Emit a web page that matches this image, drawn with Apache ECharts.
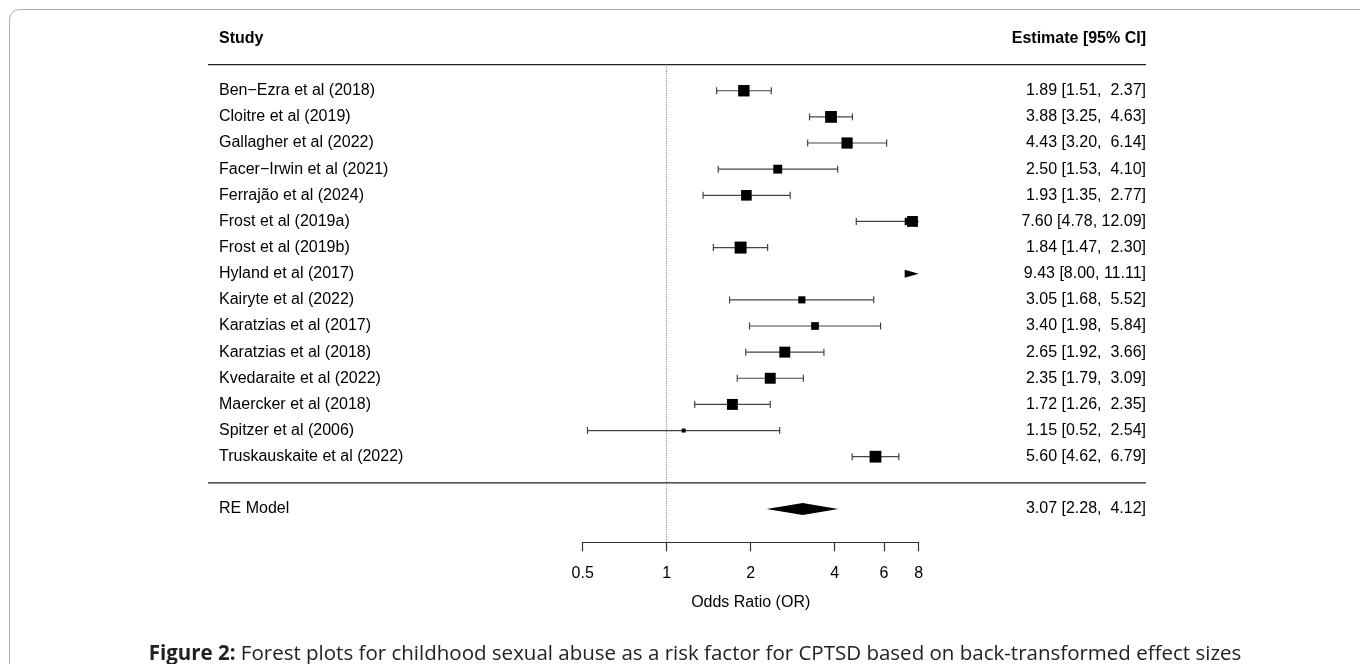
<!DOCTYPE html>
<html><head><meta charset="utf-8">
<script src="https://cdn.jsdelivr.net/npm/echarts@6/dist/echarts.min.js"></script>
<style>html,body{margin:0;padding:0;background:#fff;}#c{width:1360px;height:664px;}</style>
</head><body><div id="c"></div>
<script>
// ---------- data ----------
const studies = [
  'Ben\u2212Ezra et al (2018)', 'Cloitre et al (2019)', 'Gallagher et al (2022)',
  'Facer\u2212Irwin et al (2021)', 'Ferrajão et al (2024)', 'Frost et al (2019a)',
  'Frost et al (2019b)', 'Hyland et al (2017)', 'Kairyte et al (2022)',
  'Karatzias et al (2017)', 'Karatzias et al (2018)', 'Kvedaraite et al (2022)',
  'Maercker et al (2018)', 'Spitzer et al (2006)', 'Truskauskaite et al (2022)'
];
const estimates = [1.89, 3.88, 4.43, 2.50, 1.93, 7.60, 1.84, 9.43, 3.05, 3.40, 2.65, 2.35, 1.72, 1.15, 5.60];
const lowerCI   = [1.51, 3.25, 3.20, 1.53, 1.35, 4.78, 1.47, 8.00, 1.68, 1.98, 1.92, 1.79, 1.26, 0.52, 4.62];
const upperCI   = [2.37, 4.63, 6.14, 4.10, 2.77, 12.09, 2.30, 11.11, 5.52, 5.84, 3.66, 3.09, 2.35, 2.54, 6.79];
const weights   = [7.3, 7.5, 7.2, 6.0, 6.9, 7.0, 7.6, 7.6, 5.1, 5.4, 7.05, 7.05, 7.05, 3.5, 7.5];
const reLabel = 'RE Model';
const reEstimate = 3.07, reLower = 2.28, reUpper = 4.12;
const xTicks = [0.5, 1, 2, 4, 6, 8];
const axisMin = 0.5, axisMax = 8;
const headerLeft = 'Study';
const headerRight = 'Estimate [95% CI]';
const xAxisTitle = 'Odds Ratio (OR)';
const caption = 'Forest plots for childhood sexual abuse as a risk factor for CPTSD based on back-transformed effect sizes';
const captionLead = 'Figure 2:';

// ---------- helpers ----------
const L = v => Math.log2(v);
const k = studies.length;
const rowOf = i => k - i;            // 15 .. 1
const reRow = -1;
const headerRow = k + 2;
const fmt = (e, lo, hi) => e.toFixed(2).padStart(4) + ' [' + lo.toFixed(2).padStart(4) + ', ' + hi.toFixed(2).padStart(5) + ']';

const FONT = '"Liberation Sans", Arial, sans-serif';
const LEFT_X = 219, RIGHT_X = 1146, RULE_X1 = 208;
const wMin = Math.min(...weights), wMax = Math.max(...weights);
const boxSize = w => 4 + (w - wMin) / (wMax - wMin) * 8;
const lineCol = '#444';

function studyItem(params, api) {
  const i = params.dataIndex;
  const row = api.value(1);
  const est = estimates[i], lo = lowerCI[i], hi = upperCI[i];
  const yc = api.coord([0, row])[1];
  const xLo = api.coord([L(Math.max(lo, axisMin)), row])[0];
  const xHi = api.coord([L(Math.min(hi, axisMax)), row])[0];
  const st = {stroke: lineCol, lineWidth: 1.2, fill: null};
  const ch = [];
  const cap = 3.5, aw = 14, ah = 4;
  if (xHi > xLo) ch.push({type: 'line', shape: {x1: xLo, y1: yc, x2: xHi, y2: yc}, style: st});
  if (lo >= axisMin && lo < axisMax) ch.push({type: 'line', shape: {x1: xLo, y1: yc - cap, x2: xLo, y2: yc + cap}, style: st});
  else if (lo < axisMin) ch.push({type: 'polygon', shape: {points: [[xLo, yc], [xLo + aw, yc - ah], [xLo + aw, yc + ah]]}, style: {fill: '#000'}});
  if (hi <= axisMax) ch.push({type: 'line', shape: {x1: xHi, y1: yc - cap, x2: xHi, y2: yc + cap}, style: st});
  else ch.push({type: 'polygon', shape: {points: [[xHi, yc], [xHi - aw, yc - ah], [xHi - aw, yc + ah]]}, style: {fill: '#000'}});
  if (est >= axisMin && est <= axisMax) {
    const xe = api.coord([L(est), row])[0];
    const s = boxSize(weights[i]);
    ch.push({type: 'rect', shape: {x: xe - s / 2, y: yc - s / 2, width: s, height: s}, style: {fill: '#000'}});
  }
  return {type: 'group', children: ch};
}

function textItem(params, api) {
  const row = api.value(1);
  const yc = api.coord([0, row])[1];
  const i = params.dataIndex;
  const d = textRows[i];
  return {type: 'group', children: [
    {type: 'text', style: {x: LEFT_X, y: yc, text: d.left, fill: '#000', font: (d.bold ? 'bold ' : '') + '16px ' + FONT, textAlign: 'left', textVerticalAlign: 'middle'}},
    {type: 'text', style: {x: RIGHT_X, y: yc, text: d.right, fill: '#000', font: (d.bold ? 'bold ' : '') + '16px ' + FONT, textAlign: 'right', textVerticalAlign: 'middle'}}
  ]};
}

function ruleItem(params, api) {
  const yc = api.coord([0, api.value(1)])[1];
  return {type: 'line', shape: {x1: RULE_X1, y1: yc, x2: RIGHT_X, y2: yc}, style: {stroke: '#222', lineWidth: 1.2}};
}

function diamondItem(params, api) {
  const row = api.value(1);
  const pL = api.coord([L(reLower), row]);
  const pE = api.coord([L(reEstimate), row]);
  const pU = api.coord([L(reUpper), row]);
  const h = 6;
  return {type: 'polygon', shape: {points: [[pL[0], pL[1]], [pE[0], pE[1] - h], [pU[0], pU[1]], [pE[0], pE[1] + h]]}, style: {fill: '#000'}};
}

const textRows = [{left: headerLeft, right: headerRight, bold: true, row: headerRow}]
  .concat(studies.map((s, i) => ({left: s, right: fmt(estimates[i], lowerCI[i], upperCI[i]), row: rowOf(i)})))
  .concat([{left: reLabel, right: fmt(reEstimate, reLower, reUpper), row: reRow}]);

const chart = echarts.init(document.getElementById('c'));
chart.setOption({
  animation: false,
  backgroundColor: '#fff',
  title: {
    text: '{b|' + captionLead + '} ' + caption,
    left: 690, textAlign: 'center', top: 636,
    textStyle: {fontFamily: '"Open Sans", sans-serif', fontSize: 20.5, fontWeight: 'normal', color: '#222', lineHeight: 26,
      rich: {b: {fontFamily: '"Open Sans", sans-serif', fontSize: 20.5, fontWeight: 'bold', color: '#222', lineHeight: 26}}}
  },
  graphic: [{type: 'rect', shape: {x: 9.5, y: 9.5, width: 1400, height: 700, r: 10}, style: {fill: 'none', stroke: '#aaa', lineWidth: 1}, silent: true, z: -10}],
  grid: {left: 582.7, right: 441.3, top: 64.6, bottom: 121.7, containLabel: false, outerBoundsMode: 'none'},
  xAxis: {
    type: 'value', min: L(axisMin), max: L(axisMax),
    axisLine: {show: true, onZero: false, lineStyle: {color: '#333', width: 1.2}},
    axisTick: {show: true, length: 9, inside: false, customValues: xTicks.map(L), lineStyle: {color: '#333', width: 1.2}},
    axisLabel: {customValues: xTicks.map(L), margin: 23, fontFamily: FONT, fontSize: 16, color: '#000',
      formatter: v => String(Math.round(Math.pow(2, v) * 100) / 100)},
    splitLine: {show: false},
    name: xAxisTitle, nameLocation: 'middle', nameGap: 52,
    nameTextStyle: {fontFamily: FONT, fontSize: 16, color: '#000'}
  },
  yAxis: {type: 'value', min: -2.275, max: 16, show: false},
  series: [
    {type: 'custom', name: 'studies', renderItem: studyItem, clip: false,
      data: studies.map((s, i) => [L(estimates[i]), rowOf(i)]),
      markLine: {silent: true, symbol: 'none', label: {show: false}, lineStyle: {color: '#999', type: 'dotted', width: 1.2},
        data: [{xAxis: L(1)}]}},
    {type: 'custom', name: 'text', renderItem: textItem, clip: false, data: textRows.map(d => [0, d.row])},
    {type: 'custom', name: 'rules', renderItem: ruleItem, clip: false, data: [[0, k + 1], [0, 0]]},
    {type: 'custom', name: 'RE', renderItem: diamondItem, clip: false, data: [[L(reEstimate), reRow]]}
  ]
});
</script></body></html>
